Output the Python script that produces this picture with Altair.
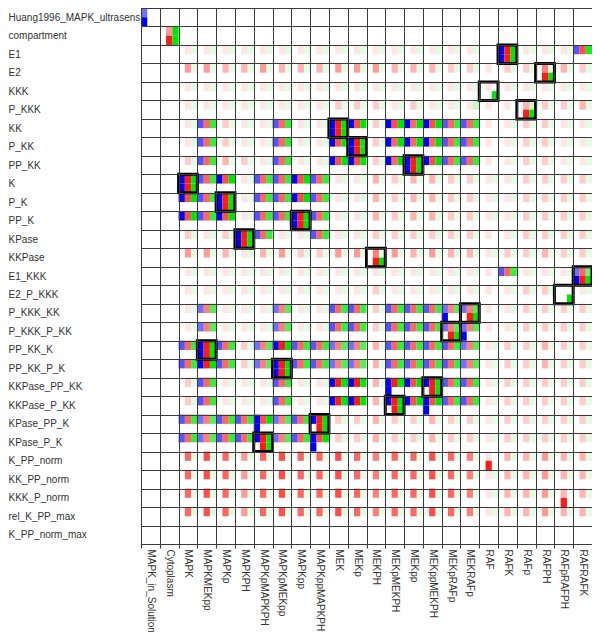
import altair as alt
import pandas as pd

rows = ["Huang1996_MAPK_ultrasens", "compartment", "E1", "E2", "KKK", "P_KKK", "KK", "P_KK",
        "PP_KK", "K", "P_K", "PP_K", "KPase", "KKPase", "E1_KKK", "E2_P_KKK", "P_KKK_KK",
        "P_KKK_P_KK", "PP_KK_K", "PP_KK_P_K", "KKPase_PP_KK", "KKPase_P_KK", "KPase_PP_K",
        "KPase_P_K", "K_PP_norm", "KK_PP_norm", "KKK_P_norm", "rel_K_PP_max", "K_PP_norm_max"]

cols = ["MAPK_in_Solution", "Cytoplasm", "MAPK", "MAPKMEKpp", "MAPKp", "MAPKPH", "MAPKpMAPKPH",
        "MAPKpMEKpp", "MAPKpp", "MAPKppMAPKPH", "MEK", "MEKp", "MEKPH", "MEKpMEKPH", "MEKpp",
        "MEKppMEKPH", "MEKpRAFp", "MEKRAFp", "RAF", "RAFK", "RAFp", "RAFPH", "RAFpRAFPH", "RAFRAFK"]

# each cell: top (blue, red, green) then bottom (blue, red, green), intensity 0-9; "-" = empty
cell_codes = [
    "500900 - - - - - - - - - - - - - - - - - - - - - - -",
    "- 049099 - - - - - - - - - - - - - - - - - - - - - -",
    "- - 011000 011000 011000 011000 011000 011000 011000 011000 011000 011000 011000 011000 011000 011000 011000 011000 - 999999 011000 011000 011000 678000",
    "- - 041000 041000 031000 031000 041000 031000 031000 031000 041000 041000 041000 031000 031000 031000 021000 021000 010000 021000 021000 051099 031000 021000",
    "- - 011000 011000 011000 011000 011000 011000 011000 011000 011000 011000 011000 011000 011000 011000 011000 011000 010009 011000 011000 011000 011000 011000",
    "- - 011000 011000 011000 011000 011000 011000 011000 011000 021000 021000 021000 011000 021000 011000 011000 012000 010000 010000 032099 021000 021000 031000",
    "- - 011000 667000 021000 011000 011000 667000 011000 011000 999999 979000 021000 979000 969000 979000 667000 667000 010000 011000 021000 021000 011000 011000",
    "- - 011000 667000 021000 011000 011000 667000 011000 011000 979000 999999 021000 969000 969000 969000 667000 667000 010000 011000 021000 021000 011000 011000",
    "- - 021000 667000 031000 021000 011000 667000 011000 011000 979000 979000 021000 969000 999999 979000 667000 667000 010000 011000 021000 021000 011000 011000",
    "- - 999999 667000 979000 011000 667000 667000 979000 667000 011000 011000 031000 021000 031000 031000 021000 021000 011000 011000 021000 021000 021000 021000",
    "- - 979000 667000 999999 011000 667000 667000 979000 667000 011000 011000 031000 021000 031000 031000 021000 021000 011000 011000 021000 021000 021000 021000",
    "- - 979000 667000 979000 011000 667000 667000 999999 667000 011000 011000 031000 021000 031000 031000 021000 021000 011000 011000 021000 021000 021000 021000",
    "- - 021000 011000 021000 999999 667000 011000 011000 667000 011000 011000 021000 021000 021000 021000 021000 021000 010000 011000 021000 021000 021000 021000",
    "- - 041000 041000 031000 011000 031000 041000 021000 021000 041000 041000 051099 041000 031000 041000 031000 031000 011000 021000 021000 031000 021000 021000",
    "- - 011000 011000 011000 011000 011000 011000 011000 011000 011000 011000 011000 011000 011000 011000 011000 011000 010000 667000 011000 011000 011000 565999",
    "- - 011000 011000 011000 011000 011000 011000 011000 011000 011000 011000 021000 011000 011000 011000 011000 011000 010000 011000 021000 021000 000009 011000",
    "- - 011000 556000 011000 011000 011000 556000 011000 011000 667000 667000 021000 667000 667000 667000 556900 556099 010000 011000 021000 021000 021000 021000",
    "- - 011000 556000 011000 011000 011000 556000 011000 011000 667000 667000 021000 667000 667000 667000 556099 556900 010000 011000 021000 021000 021000 021000",
    "- - 667000 999999 667000 021000 556000 999000 667000 667000 556000 556000 031000 667000 667000 667000 667000 556000 011000 021000 021000 031000 021000 021000",
    "- - 667000 999000 667000 021000 556000 999999 667000 667000 556000 556000 031000 667000 667000 667000 667000 556000 011000 021000 021000 031000 021000 021000",
    "- - 021000 667000 011000 011000 011000 667000 011000 011000 999000 999000 031000 999900 979000 999099 667000 667000 011000 021000 021000 021000 021000 021000",
    "- - 021000 667000 011000 011000 011000 667000 011000 011000 999000 999000 031000 999099 979000 979900 667000 667000 011000 021000 021000 021000 021000 021000",
    "- - 667000 556000 667000 667000 979900 556000 667000 999099 021000 021000 031000 021000 021000 031000 021000 021000 011000 021000 021000 021000 021000 021000",
    "- - 667000 556000 667000 667000 999099 556000 667000 979900 021000 021000 031000 021000 021000 031000 021000 021000 011000 021000 021000 021000 021000 021000",
    "- - 061000 071000 061000 041000 061000 071000 061000 061000 071000 061000 051000 061000 061000 071000 061000 051000 010090 031000 031000 041000 031000 031000",
    "- - 061000 071000 061000 041000 061000 071000 061000 061000 071000 061000 051000 061000 061000 071000 061000 051000 011000 031000 031000 041000 031000 031000",
    "- - 061000 071000 061000 041000 061000 071000 061000 061000 071000 061000 051000 061000 061000 071000 061000 051000 011000 031000 031000 041000 030090 031000",
    "- - 061000 071000 061000 041000 061000 071000 061000 061000 071000 061000 051000 061000 061000 071000 061000 051000 011000 031000 031000 041000 031000 031000",
    "- - - - - - - - - - - - - - - - - - - - - - - -",
]

# highlighted (boxed) matches: (row, column)
box_rows = ["E1", "E2", "KKK", "P_KKK", "KK", "P_KK", "PP_KK", "K", "P_K", "PP_K", "KPase",
            "KKPase", "E1_KKK", "E2_P_KKK", "P_KKK_KK", "P_KKK_P_KK", "PP_KK_K", "PP_KK_P_K",
            "KKPase_PP_KK", "KKPase_P_KK", "KPase_PP_K", "KPase_P_K"]
box_cols = ["RAFK", "RAFPH", "RAF", "RAFp", "MEK", "MEKp", "MEKpp", "MAPK", "MAPKp", "MAPKpp",
            "MAPKPH", "MEKPH", "RAFRAFK", "RAFpRAFPH", "MEKRAFp", "MEKpRAFp", "MAPKMEKpp",
            "MAPKpMEKpp", "MEKppMEKPH", "MEKpMEKPH", "MAPKppMAPKPH", "MAPKpMAPKPH"]

palette = ["#0000ff", "#ff1a1a", "#00e600"]

records = []
for r, line in zip(rows, cell_codes):
    for c, code in zip(cols, line.split()):
        if code == "-":
            continue
        for k, ch in enumerate(code):
            v = int(ch)
            if v == 0:
                continue
            records.append({"row": r, "col": c, "sub": k % 3, "half": k // 3,
                            "color": palette[k % 3], "alpha": v / 9.0})
df = pd.DataFrame(records)
boxes = pd.DataFrame({"row": box_rows, "col": box_cols})

font = "Liberation Sans"
grid_col = "#3a3a3a"
x_enc = alt.X("col:N", sort=cols,
              scale=alt.Scale(domain=cols, paddingInner=0, paddingOuter=0),
              axis=alt.Axis(title=None, orient="bottom", labelAngle=90, labelAlign="left",
                            labelBaseline="middle", labelFont=font, labelFontSize=10,
                            labelColor="#333333", labelPadding=1, ticks=True, tickSize=4,
                            tickColor=grid_col, tickBand="extent", grid=True,
                            gridColor=grid_col, gridWidth=1, domain=False, labelLimit=200))
y_enc = alt.Y("row:N", sort=rows,
              scale=alt.Scale(domain=rows, paddingInner=0, paddingOuter=0),
              axis=alt.Axis(title=None, labelAlign="left", labelBaseline="middle",
                            labelFont=font, labelFontSize=10, labelColor="#333333",
                            labelPadding=133, ticks=False, tickSize=0, tickBand="extent",
                            grid=True, gridColor=grid_col, gridWidth=1, domain=False,
                            labelLimit=200))

cells = alt.Chart(df).mark_rect().encode(
    x=x_enc,
    y=y_enc,
    xOffset=alt.XOffset("sub:N", scale=alt.Scale(domain=[0, 1, 2], paddingInner=0, paddingOuter=0)),
    yOffset=alt.YOffset("half:N", scale=alt.Scale(domain=[0, 1], paddingInner=0, paddingOuter=0)),
    color=alt.Color("color:N", scale=None),
    opacity=alt.Opacity("alpha:Q", scale=None),
)

frames = alt.Chart(boxes).mark_rect(fillOpacity=0, stroke="black", strokeWidth=3).encode(
    x=x_enc,
    y=y_enc,
)

chart = alt.layer(cells, frames).properties(
    width=451, height=536,
    autosize=alt.AutoSizeParams(type="none"),
    padding={"left": 133, "top": 0, "right": 0, "bottom": 98},
    background="white",
).configure_view(stroke=grid_col, strokeWidth=1)

chart.save("out.html", embed_options={"renderer": "svg", "actions": False})
